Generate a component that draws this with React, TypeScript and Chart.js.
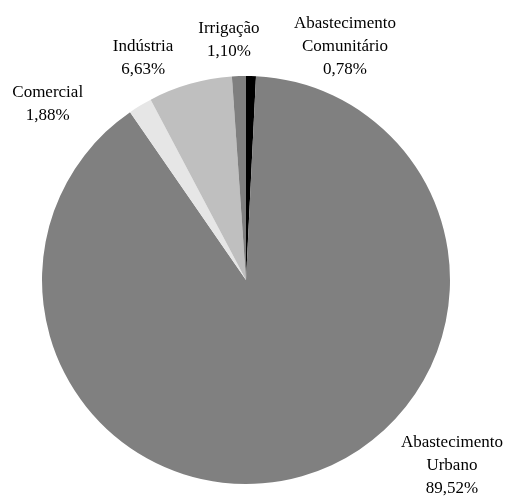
import React, { useEffect, useRef } from "react";
import { Chart, registerables } from "chart.js";

Chart.register(...registerables);

const categories: string[][] = [
  ["Abastecimento", "Comunitário"],
  ["Abastecimento", "Urbano"],
  ["Comercial"],
  ["Indústria"],
  ["Irrigação"],
];
const values: number[] = [0.78, 89.52, 1.88, 6.63, 1.1];
const valueLabels: string[] = ["0,78%", "89,52%", "1,88%", "6,63%", "1,10%"];
const colors: string[] = ["#000000", "#808080", "#e6e6e6", "#bfbfbf", "#7f7f7f"];
const labelOffsets: number[][] = [
  [94, -30],
  [150, -11],
  [-92.5, -1.5],
  [-47, -26],
  [-10, -36],
];

const labelPlugin = {
  id: "outerLabels",
  afterDraw(chart: any) {
    const ctx = chart.ctx;
    const meta = chart.getDatasetMeta(0);
    ctx.save();
    ctx.font = '17px "Liberation Serif", "Times New Roman", serif';
    ctx.fillStyle = "#000";
    ctx.textAlign = "center";
    ctx.textBaseline = "middle";
    const lh = 23;
    meta.data.forEach((arc: any, i: number) => {
      const { x, y, startAngle, endAngle, outerRadius } = arc.getProps(
        ["x", "y", "startAngle", "endAngle", "outerRadius"],
        true
      );
      const mid = (startAngle + endAngle) / 2;
      const ax = x + Math.cos(mid) * outerRadius + labelOffsets[i][0];
      const ay = y + Math.sin(mid) * outerRadius + labelOffsets[i][1];
      const lines = [...categories[i], valueLabels[i]];
      const top = ay - ((lines.length - 1) * lh) / 2;
      lines.forEach((t, k) => ctx.fillText(t, ax, top + k * lh));
    });
    ctx.restore();
  },
};

export default function App() {
  const ref = useRef<HTMLCanvasElement>(null);
  useEffect(() => {
    document.body.style.margin = "0";
    const chart = new Chart(ref.current!, {
      type: "pie",
      data: {
        labels: categories.map((c) => c.join(" ")),
        datasets: [
          {
            data: values,
            backgroundColor: colors,
            borderWidth: 0,
          },
        ],
      },
      options: {
        animation: false,
        responsive: false,
        maintainAspectRatio: false,
        layout: { padding: { left: 42, right: 56, top: 76, bottom: 12 } },
        plugins: {
          legend: { display: false },
          tooltip: { enabled: false },
        },
      },
      plugins: [labelPlugin],
    });
    return () => chart.destroy();
  }, []);
  return (
    <div style={{ width: 506, height: 496, background: "#fff" }}>
      <canvas ref={ref} width={506} height={496} style={{ width: 506, height: 496 }} />
    </div>
  );
}
